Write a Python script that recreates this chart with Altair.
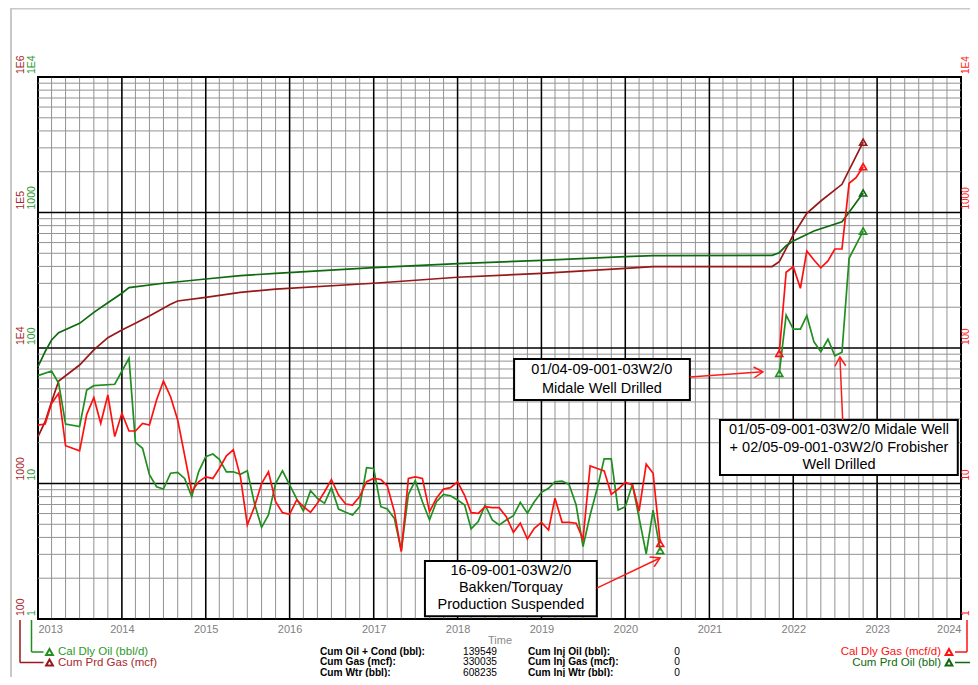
import altair as alt
import pandas as pd

FONT = "Arial, Liberation Sans, sans-serif"

# ---------------- data ----------------
# Calendar daily oil (bbl/d) - first producing period
oil_dates_1 = ["2013-01", "2013-03", "2013-04", "2013-05", "2013-07", "2013-08", "2013-09", "2013-12",
               "2014-02", "2014-03", "2014-04", "2014-05", "2014-06", "2014-07", "2014-08", "2014-09", "2014-10", "2014-11", "2014-12",
               "2015-01", "2015-02", "2015-03", "2015-04", "2015-05", "2015-06", "2015-07", "2015-08", "2015-09", "2015-10", "2015-11", "2015-12",
               "2016-01", "2016-02", "2016-03", "2016-04", "2016-05", "2016-06", "2016-07", "2016-08", "2016-09", "2016-10", "2016-11", "2016-12",
               "2017-01", "2017-02", "2017-03", "2017-04", "2017-05", "2017-06", "2017-07", "2017-08", "2017-09", "2017-10", "2017-11", "2017-12",
               "2018-01", "2018-02", "2018-03", "2018-04", "2018-05", "2018-06", "2018-07", "2018-08", "2018-09", "2018-10", "2018-11", "2018-12",
               "2019-01", "2019-02", "2019-03", "2019-04", "2019-05", "2019-06", "2019-07", "2019-08", "2019-09", "2019-10", "2019-11", "2019-12",
               "2020-01", "2020-02", "2020-04", "2020-05", "2020-06"]
oil_rate_1 = [62.5, 67.7, 54.9, 27.5, 26.3, 49, 52.7, 54,
              84, 20.1, 18.2, 11.6, 9.47, 9.1, 11.9, 12.1, 10.9, 8.0, 12.2,
              15.8, 16.5, 15.1, 12.2, 12.2, 11.7, 12.4, 7.14, 4.75, 5.86, 10.0, 12.4,
              9.75, 7.69, 6.27, 8.85, 7.78, 7.14, 9.31, 6.48, 6.13, 5.86, 6.74, 13.1,
              12.9, 6.74, 6.48, 5.53, 3.18, 8.32, 10.5, 7.34, 5.38, 7.34, 8.32, 8.13,
              7.55, 6.94, 4.62, 5.23, 6.94, 5.38, 4.94, 5.38, 5.78, 7.26, 6.03, 7.34,
              8.61, 9.22, 10.3, 10.4, 9.86, 6.94, 3.42, 5.86, 9.22, 15.2, 15.2, 6.37,
              6.74, 9.86, 3.02, 6.37, 3.2]

# Calendar daily gas (mcf/d) - first producing period
gas_dates_1 = ["2013-01", "2013-02", "2013-03", "2013-04", "2013-05", "2013-07", "2013-08", "2013-09", "2013-10", "2013-11", "2013-12",
               "2014-01", "2014-02", "2014-03", "2014-04", "2014-05", "2014-06", "2014-07", "2014-08", "2014-09", "2014-10", "2014-11", "2014-12",
               "2015-01", "2015-02", "2015-03", "2015-04", "2015-05", "2015-06", "2015-07", "2015-08", "2015-09", "2015-10", "2015-11", "2015-12",
               "2016-01", "2016-02", "2016-03", "2016-04", "2016-05", "2016-06", "2016-07", "2016-08", "2016-09", "2016-10", "2016-11", "2016-12",
               "2017-01", "2017-02", "2017-03", "2017-04", "2017-05", "2017-06", "2017-07", "2017-08", "2017-09", "2017-10", "2017-11", "2017-12",
               "2018-01", "2018-02", "2018-03", "2018-04", "2018-05", "2018-06", "2018-07", "2018-08", "2018-09", "2018-10", "2018-11", "2018-12",
               "2019-01", "2019-02", "2019-03", "2019-04", "2019-05", "2019-06", "2019-07", "2019-08", "2019-09", "2019-10", "2019-11", "2019-12",
               "2020-01", "2020-02", "2020-03", "2020-04", "2020-05", "2020-06"]
gas_rate_1 = [27, 27.5, 39, 46.3, 19, 17.4, 32.4, 43, 27.8, 45, 22.2,
              33, 24.4, 24.4, 27.8, 27, 41.3, 57, 43.7, 29.4, 16.2, 8.7, 10.3,
              11.2, 10.9, 12.9, 16, 17.7, 11.2, 4.94, 6.74, 10, 12.2, 7.34, 6.09,
              5.93, 7.56, 6.74, 6.13, 7.14, 8.7, 10.7, 8.22, 7.06, 6.94, 8.0, 10.3,
              10.9, 10.7, 9.63, 6.19, 3.14, 10.9, 11.2, 10.9, 6.19, 7.78, 9.1, 9.31,
              10.3, 8.13, 6.09, 6.03, 6.74, 6.63, 6.63, 5.69, 4.36, 5.09, 3.89, 4.67,
              5.17, 4.54, 7.78, 5.17, 5.17, 5.09, 3.89, 13.5, 12.9, 12.4, 8.32, 9.1,
              10.2, 9.75, 6.27, 13.9, 11.9, 3.62]

# Second producing period (new wells)
dates_2 = ["2021-11", "2021-12", "2022-01", "2022-02", "2022-03", "2022-04", "2022-05",
           "2022-06", "2022-07", "2022-08", "2022-09", "2022-10", "2022-11"]
oil_rate_2 = [65, 175, 138, 138, 173, 111, 94, 116, 87.7, 93, 459, 576, 730]
gas_rate_2 = [91.4, 362, 398, 276, 520, 446, 391, 439, 538, 538, 1643, 1806, 2178]

# Cumulative produced gas (mcf)
cum_gas_dates = ["2013-01", "2013-02", "2013-03", "2013-04", "2013-07", "2013-09", "2013-11", "2014-01", "2014-03",
                 "2014-05", "2014-08", "2014-09", "2015-01", "2015-06", "2015-11", "2017-01", "2018-01", "2019-01",
                 "2020-01", "2020-05", "2020-06", "2021-10", "2021-11", "2022-01", "2022-03", "2022-05", "2022-08", "2022-11"]
cum_gas = [2215, 2860, 4015, 5710, 7490, 9670, 11910, 13580, 15220,
           17220, 21020, 22240, 23670, 25770, 27240, 30050, 33270, 35580,
           38730, 39820, 39900, 39900, 43350, 68230, 98650, 121600, 161500, 330035]

# Cumulative produced oil (bbl)
cum_oil_dates = ["2013-01", "2013-02", "2013-03", "2013-04", "2013-07", "2013-09", "2013-11", "2014-01", "2014-02",
                 "2014-07", "2015-01", "2015-06", "2015-11", "2017-01", "2018-01", "2019-01", "2020-01", "2020-05",
                 "2020-06", "2021-10", "2021-11", "2021-12", "2022-01", "2022-04", "2022-08", "2022-09", "2022-11"]
cum_oil = [7280, 9390, 11460, 12970, 15210, 18330, 21590, 25340, 27870,
           30050, 32300, 34170, 35580, 39150, 41910, 44390, 47180, 48000,
           48100, 48300, 50500, 56900, 61600, 73000, 85500, 100300, 139549]

# Axis tick labels
rate_ticks = [1, 10, 100, 1000, 10000]
rate_labels = ["1", "10", "100", "1000", "1E4"]
cum_ticks = [100, 1000, 10000, 100000, 1000000]
cum_labels = ["100", "1000", "1E4", "1E5", "1E6"]

# Annotations (in data units)
box_x1 = ["2018-09-04", "2021-02-16", "2017-08-12"]
box_x2 = ["2020-10-08", "2023-12-18", "2019-08-30"]
box_top = [83.0, 29.4, 2.68]
box_bottom = [41.3, 11.55, 1.05]
note_dates = ["2019-09-21", "2019-09-21", "2022-07-19", "2022-07-19", "2022-07-19",
              "2018-08-21", "2018-08-21", "2018-08-21"]
note_vals = [68.8, 49.8, 24.8, 18.4, 13.7, 2.26, 1.69, 1.27]
note_texts = ["01/04-09-001-03W2/0", "Midale Well Drilled",
              "01/05-09-001-03W2/0 Midale Well", "+ 02/05-09-001-03W2/0 Frobisher", "Well Drilled",
              "16-09-001-03W2/0", "Bakken/Torquay", "Production Suspended"]
arrow_from_d = ["2020-10-08", "2022-08-04", "2019-08-30"]
arrow_from_v = [61.1, 29.4, 1.69]
arrow_to_d = ["2021-08-22", "2022-07-23", "2020-05-31"]
arrow_to_v = [66.8, 85.8, 2.82]
arrow_angle = [356, 267.5, 334.5]

# Legend / summary texts
legend_left = ["Cal Dly Oil (bbl/d)", "Cum Prd Gas (mcf)"]
legend_right = ["Cal Dly Gas (mcf/d)", "Cum Prd Oil (bbl)"]
stat_labels_1 = ["Cum Oil + Cond (bbl):", "Cum Gas (mcf):", "Cum Wtr (bbl):"]
stat_values_1 = ["139549", "330035", "608235"]
stat_labels_2 = ["Cum Inj Oil (bbl):", "Cum Inj Gas (mcf):", "Cum Inj Wtr (bbl):"]
stat_values_2 = ["0", "0", "0"]

# ---------------- styling ----------------
W, H = 923, 542
C_OIL = "#1f8f1f"
C_CUMOIL = "#0f6a0f"
C_GAS = "#ff1010"
C_CUMGAS = "#981818"
C_LBL_DKRED = "#a8282c"
C_LBL_GREEN = "#2a9a2a"
GRID = "#939393"


def to_dt(lst):
    return pd.to_datetime(lst)


xscale = alt.Scale(domain=[alt.DateTime(year=2013, month=1, date=1),
                           alt.DateTime(year=2024, month=1, date=1)], nice=False)
xaxis = alt.Axis(format="%Y", tickCount="year", labelFlush=True, grid=False, domain=False,
                 ticks=False, labelColor="#808080", labelFontSize=11, labelPadding=4,
                 labelFont=FONT, labelOverlap=False, title="Time", titleColor="#8a8a8a",
                 titleFontSize=11, titleFontWeight="normal", titleFont=FONT, titlePadding=0)
RATE = alt.Scale(type="log", domain=[1, 10000], nice=False)
CUM = alt.Scale(type="log", domain=[100, 1000000], nice=False)


def X(f):
    return alt.X(f"{f}:T", scale=xscale, axis=xaxis)


def YR(f):
    return alt.Y(f"{f}:Q", scale=RATE, axis=None)


def YC(f):
    return alt.Y(f"{f}:Q", scale=CUM, axis=None)


layers = []

# ---- grid ----
minor_dates = pd.date_range("2013-03-01", "2023-11-01", freq="2MS")
year_dates = pd.date_range("2014-01-01", "2023-01-01", freq="YS")
minor_vals = [j * 10 ** k for k in range(4) for j in range(2, 10)]
layers.append(alt.Chart(pd.DataFrame({"d": minor_dates})).mark_rule(color=GRID, strokeWidth=1)
              .encode(x=X("d")))
layers.append(alt.Chart(pd.DataFrame({"v": minor_vals})).mark_rule(color=GRID, strokeWidth=1)
              .encode(y=YR("v")))
layers.append(alt.Chart(pd.DataFrame({"d": year_dates})).mark_rule(color="black", strokeWidth=1.5)
              .encode(x=X("d")))
layers.append(alt.Chart(pd.DataFrame({"v": rate_ticks})).mark_rule(color="black", strokeWidth=1.5)
              .encode(y=YR("v")))

# ---- series ----
df_cg = pd.DataFrame({"d": to_dt(cum_gas_dates), "v": cum_gas})
df_co = pd.DataFrame({"d": to_dt(cum_oil_dates), "v": cum_oil})
df_oil = pd.concat([pd.DataFrame({"d": to_dt(oil_dates_1), "v": oil_rate_1, "seg": "a"}),
                    pd.DataFrame({"d": to_dt(dates_2), "v": oil_rate_2, "seg": "b"})])
df_gas = pd.concat([pd.DataFrame({"d": to_dt(gas_dates_1), "v": gas_rate_1, "seg": "a"}),
                    pd.DataFrame({"d": to_dt(dates_2), "v": gas_rate_2, "seg": "b"})])

layers.append(alt.Chart(df_cg).mark_line(color=C_CUMGAS, strokeWidth=1.7).encode(x=X("d"), y=YC("v")))
layers.append(alt.Chart(df_co).mark_line(color=C_CUMOIL, strokeWidth=1.7).encode(x=X("d"), y=YC("v")))
layers.append(alt.Chart(df_oil).mark_line(color=C_OIL, strokeWidth=1.7)
              .encode(x=X("d"), y=YR("v"), detail="seg:N"))
layers.append(alt.Chart(df_gas).mark_line(color=C_GAS, strokeWidth=1.7)
              .encode(x=X("d"), y=YR("v"), detail="seg:N"))

# end-of-segment triangle markers
mk_oil = pd.DataFrame({"d": to_dt([oil_dates_1[-1], dates_2[0], dates_2[-1]]),
                       "v": [oil_rate_1[-1], oil_rate_2[0], oil_rate_2[-1]]})
mk_gas = pd.DataFrame({"d": to_dt([gas_dates_1[-1], dates_2[0], dates_2[-1]]),
                       "v": [gas_rate_1[-1], gas_rate_2[0], gas_rate_2[-1]]})


def tri(df, color, yenc):
    return alt.Chart(df).mark_point(shape="triangle-up", filled=False, color=color, size=50,
                                    strokeWidth=1.6, opacity=1).encode(x=X("d"), y=yenc)


layers.append(tri(mk_oil, C_OIL, YR("v")))
layers.append(tri(mk_gas, C_GAS, YR("v")))
layers.append(tri(df_cg.tail(1), C_CUMGAS, YC("v")))
layers.append(tri(df_co.tail(1), C_CUMOIL, YC("v")))

# ---- annotations ----
df_box = pd.DataFrame({"x1": to_dt(box_x1), "x2": to_dt(box_x2), "y1": box_top, "y2": box_bottom})
layers.append(alt.Chart(df_box).mark_rect(fill="white", stroke="black", strokeWidth=2)
              .encode(x=X("x1"), x2="x2:T", y=YR("y1"), y2="y2:Q"))
df_note = pd.DataFrame({"d": to_dt(note_dates), "v": note_vals, "t": note_texts})
layers.append(alt.Chart(df_note).mark_text(font=FONT, fontSize=14.5, color="black", baseline="middle")
              .encode(x=X("d"), y=YR("v"), text="t:N"))
df_arr = pd.DataFrame({"x1": to_dt(arrow_from_d), "y1": arrow_from_v,
                       "x2": to_dt(arrow_to_d), "y2": arrow_to_v, "ang": arrow_angle})
layers.append(alt.Chart(df_arr).mark_rule(color="#ff1a1a", strokeWidth=1.5)
              .encode(x=X("x1"), x2="x2:T", y=YR("y1"), y2="y2:Q"))
layers.append(alt.Chart(df_arr).mark_point(shape="M -1 -0.6 L 0 0 L -1 0.6", filled=False,
                                           color="#ff1a1a", strokeWidth=1.5, size=324, opacity=1)
              .encode(x=X("x2"), y=YR("y2"), angle=alt.Angle("ang:Q", scale=None)))

# ---- rotated y-axis labels ----
df_rt = pd.DataFrame({"v": rate_ticks, "t": rate_labels})
df_ct = pd.DataFrame({"v": cum_ticks, "t": cum_labels})


def ylab(df, xpos, color, yenc, size=10.5):
    return alt.Chart(df).mark_text(font=FONT, fontSize=size, color=color, angle=270, align="left",
                                   baseline="middle", dx=3).encode(x=alt.value(xpos), y=yenc, text="t:N")


layers.append(ylab(df_ct, -17, C_LBL_DKRED, YC("v")))
layers.append(ylab(df_rt, -6, C_LBL_GREEN, YR("v")))
layers.append(ylab(df_rt, W + 5, "#ff2020", YR("v"), size=10))

# ---- legend brackets, summary block and outer frame (page decorations) ----
dummy = pd.DataFrame({"k": [0]})


def prule(x1, y1, x2, y2, color, w=1.5):
    return alt.Chart(dummy).mark_rule(color=color, strokeWidth=w).encode(
        x=alt.value(x1), x2=alt.value(x2), y=alt.value(y1), y2=alt.value(y2))


def ptext(x, y, s, color, size=11.5, align="left", weight="normal"):
    return alt.Chart(dummy).mark_text(text=s, color=color, fontSize=size, align=align,
                                      baseline="middle", fontWeight=weight, font=FONT).encode(
        x=alt.value(x), y=alt.value(y))


def ptri(x, y, color):
    return alt.Chart(dummy).mark_point(shape="triangle-up", filled=False, color=color, size=45,
                                       strokeWidth=2, opacity=1).encode(x=alt.value(x), y=alt.value(y))


layers.append(alt.Chart(dummy).mark_rect(filled=False, stroke="#c8c8c8", strokeWidth=2).encode(
    x=alt.value(-27), x2=alt.value(W + 60), y=alt.value(-68.5), y2=alt.value(H + 90)))

R1, R2 = 575, 585.5
# left legend
layers += [prule(-6.5, H + 1, -6.5, R1, C_OIL), prule(-6.5, R1, 5.5, R1, C_OIL),
           ptri(11.5, R1, C_OIL), ptext(20, R1, legend_left[0], C_LBL_GREEN)]
layers += [prule(-18, H + 1, -18, R2, C_CUMGAS), prule(-18, R2, 5.5, R2, C_CUMGAS),
           ptri(11.5, R2, C_CUMGAS), ptext(20, R2, legend_left[1], C_LBL_DKRED)]
# right legend
layers += [prule(929, H + 1, 929, R1, C_GAS), prule(917, R1, 929, R1, C_GAS),
           ptri(911, R1, C_GAS), ptext(903, R1, legend_right[0], C_GAS, align="right")]
layers += [prule(917, R2, 960, R2, C_CUMOIL),
           ptri(911, R2, C_CUMOIL), ptext(903, R2, legend_right[1], C_CUMOIL, align="right")]

# summary block
row_y = [574.5, 585, 595.5]
for i in range(3):
    layers.append(ptext(282, row_y[i], stat_labels_1[i], "black", size=10.2, weight="bold"))
    layers.append(ptext(459, row_y[i], stat_values_1[i], "black", size=10.2, align="right"))
    layers.append(ptext(490, row_y[i], stat_labels_2[i], "black", size=10.2, weight="bold"))
    layers.append(ptext(639, row_y[i], stat_values_2[i], "black", size=10.2, align="center"))

chart = (alt.layer(*layers)
         .resolve_scale(y="independent")
         .properties(width=W, height=H,
                     padding={"left": 30, "top": 69, "right": 9, "bottom": 58},
                     autosize=alt.AutoSizeParams(type="none"))
         .configure_view(stroke="black", strokeWidth=2)
         .configure_text(font=FONT))

chart.save("out.html", embed_options={"renderer": "svg", "actions": False})
